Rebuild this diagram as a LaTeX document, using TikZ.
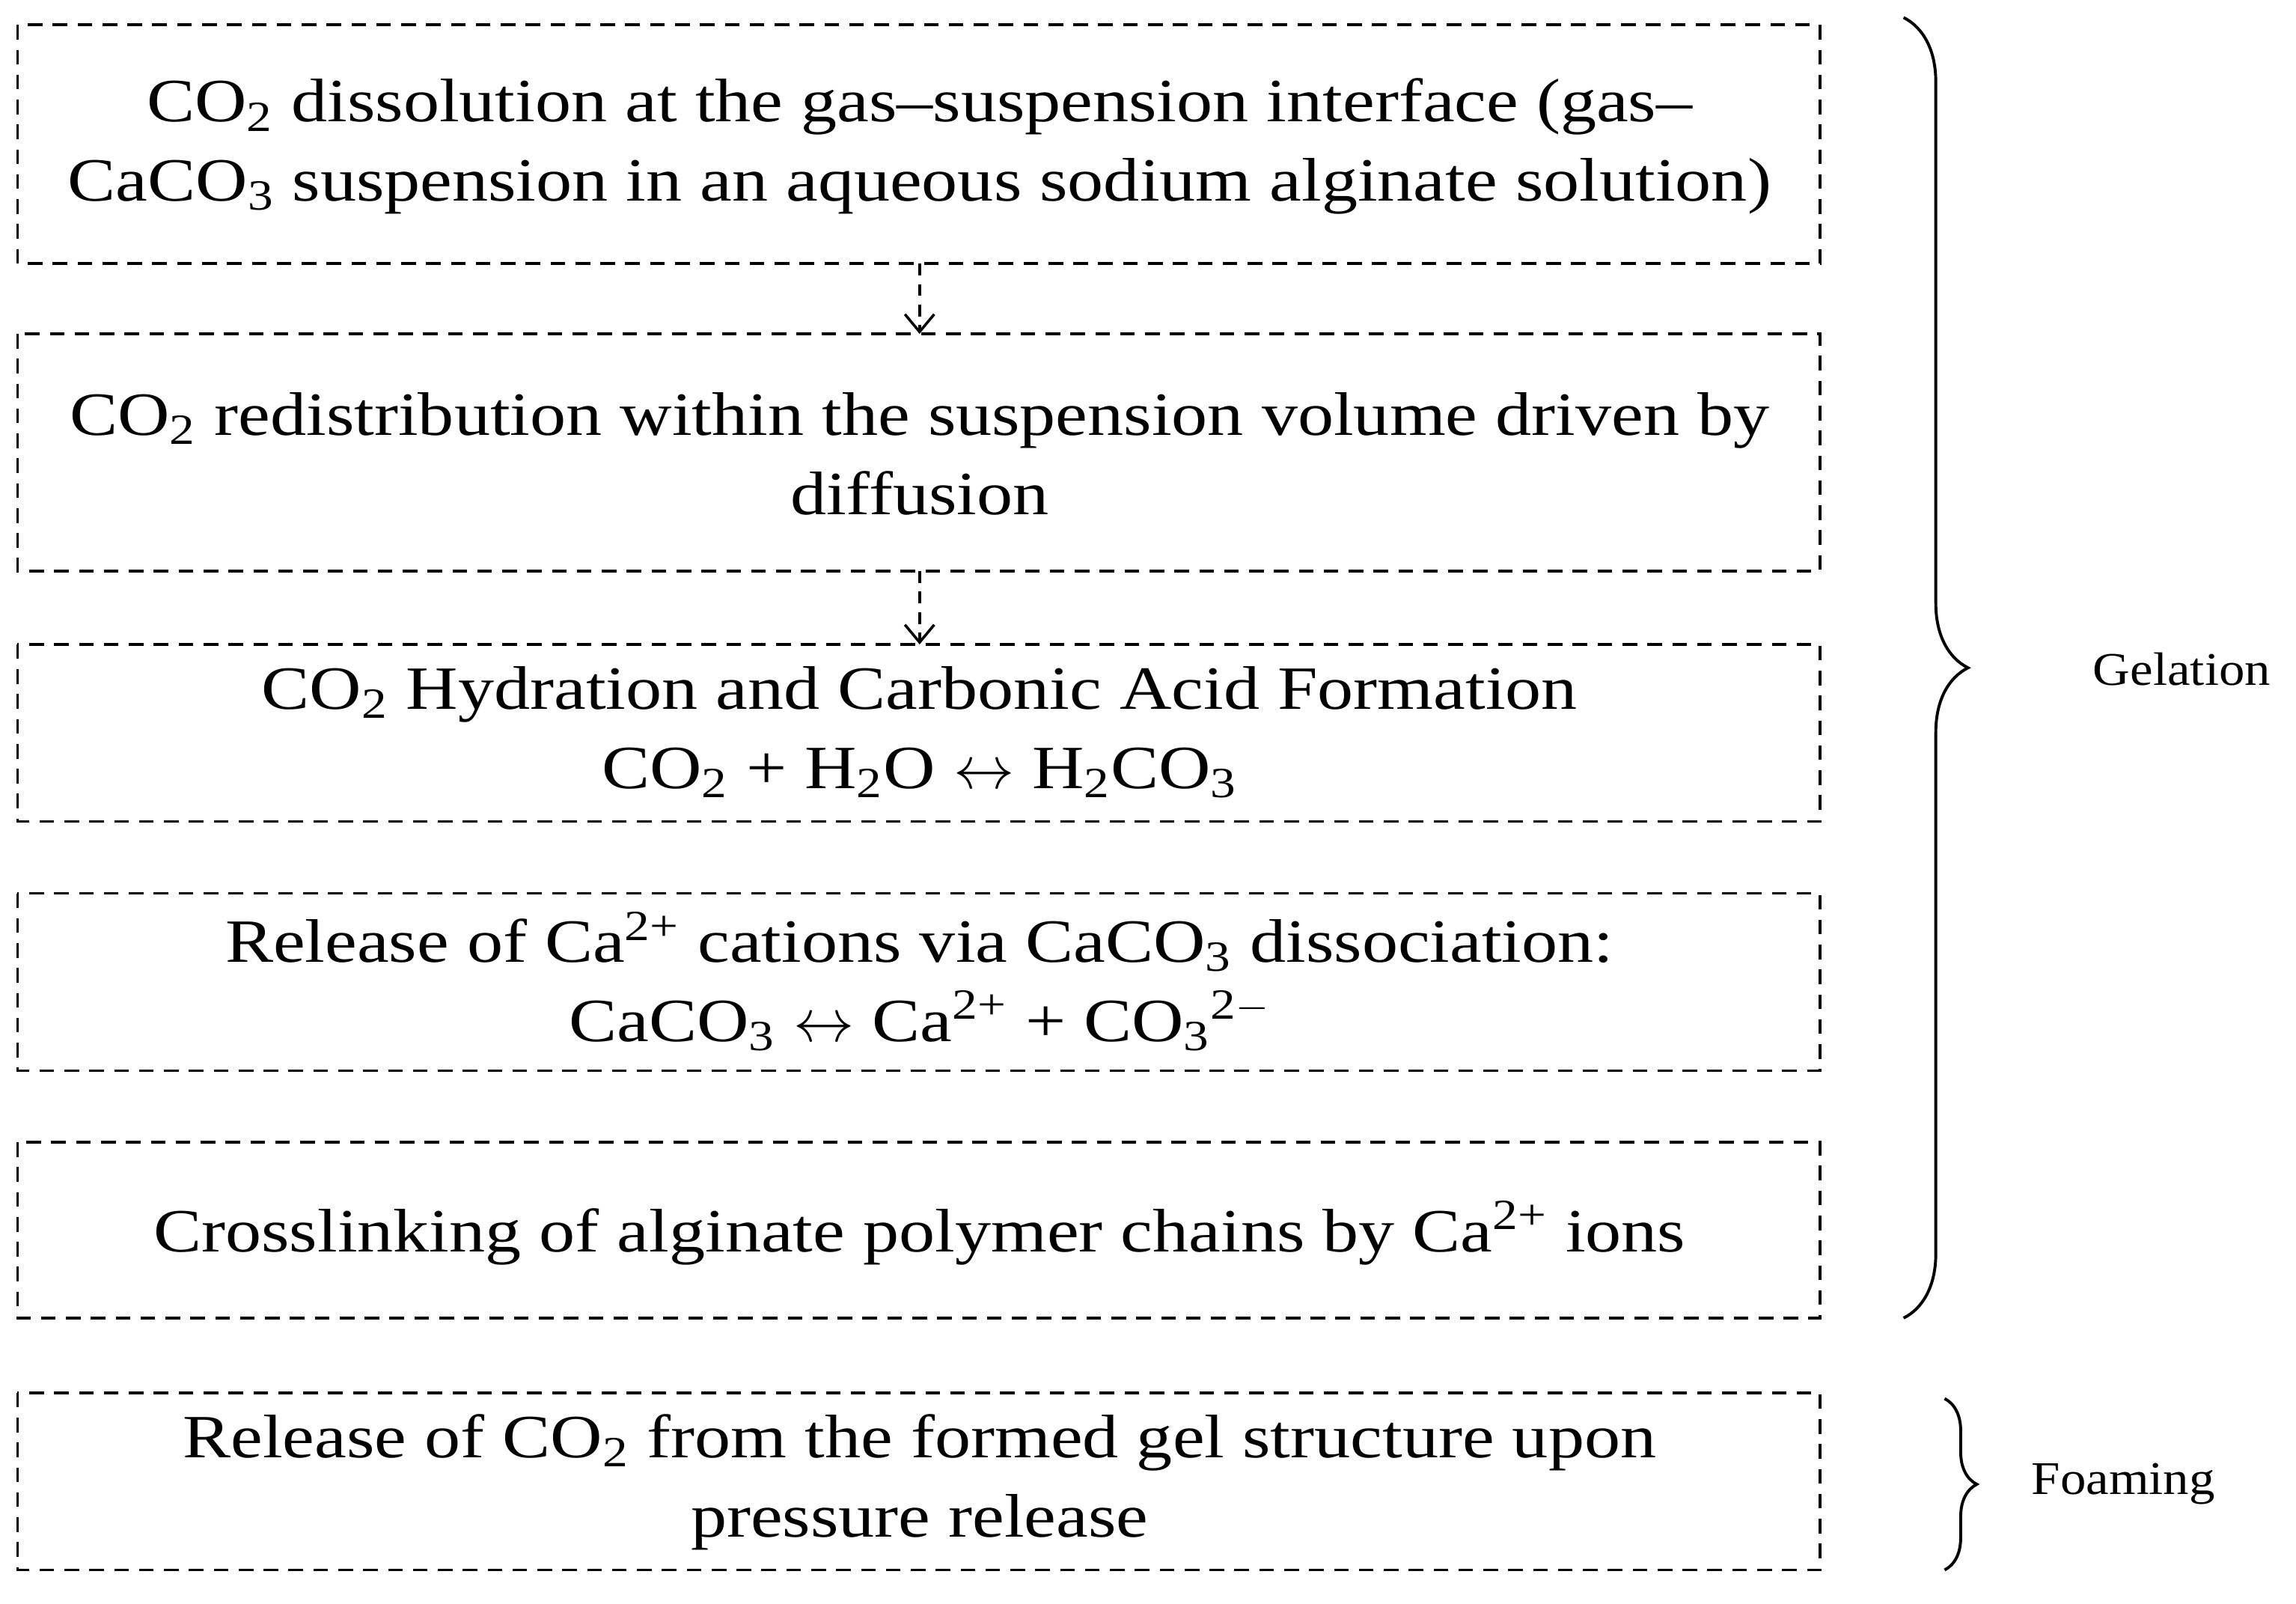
\documentclass[tikz,border=0pt]{standalone}
\usepackage{fontspec}
\setmainfont{Liberation Serif}[FakeStretch=1.17]
\newfontfamily\lblfont{Liberation Serif}[FakeStretch=1.1]
\usetikzlibrary{arrows.meta,decorations.pathreplacing}
\begin{document}
\begin{tikzpicture}[x=0.5pt,y=-0.5pt,
  boxst/.style={draw,dashed,line width=0.9pt,dash pattern=on 5pt off 3.5pt},
  txt/.style={align=center,font=\fontsize{21}{27}\selectfont,inner sep=0pt},
  arr/.style={draw,line width=0.9pt,dash pattern=on 4pt off 3pt,-{Straight Barb[length=6pt,width=10pt]}},
  brc/.style={draw,line width=1pt,decorate,decoration={brace,amplitude=22pt}},
  lbl/.style={font=\lblfont\fontsize{16}{19}\selectfont,inner sep=0pt}]
\useasboundingbox (0,0) rectangle (1568,1095);
\newcommand{\sub}[1]{\textsubscript{#1}}
\newcommand{\supx}[1]{\textsuperscript{#1}}
\draw[boxst] (12,17) rectangle (1243,180);
\draw[boxst] (12,228) rectangle (1243,390);
\draw[boxst] (12,440) rectangle (1243,561);
\draw[boxst] (12,610) rectangle (1243,731);
\draw[boxst] (12,780) rectangle (1243,900);
\draw[boxst] (12,951) rectangle (1243,1072);
\node[txt] (t1) at (628,100) {CO\sub{2} dissolution at the gas--suspension interface (gas--\\CaCO\sub{3} suspension in an aqueous sodium alginate solution)};
\node[txt] (t2) at (628,310) {CO\sub{2} redistribution within the suspension volume driven by\\diffusion};
\node[txt] (t3) at (628,500) {CO\sub{2} Hydration and Carbonic Acid Formation\\CO\sub{2} + H\sub{2}O $\leftrightarrow$ H\sub{2}CO\sub{3}};
\node[txt] (t4) at (628,670) {Release of Ca\supx{2+} cations via CaCO\sub{3} dissociation:\\CaCO\sub{3} $\leftrightarrow$ Ca\supx{2+} + CO\sub{3}\supx{2$-$}};
\node[txt] (t5) at (628,842) {Crosslinking of alginate polymer chains by Ca\supx{2+} ions};
\node[txt] (t6) at (628,1012) {Release of CO\sub{2} from the formed gel structure upon\\pressure release};
\coordinate (a1) at (628,180); \coordinate (b1) at (628,228);
\coordinate (a2) at (628,390); \coordinate (b2) at (628,440);
\draw[arr] (a1) -- (b1);
\draw[arr] (a2) -- (b2);
\draw[brc] (1300,12) -- (1300,900);
\draw[brc,decoration={brace,amplitude=11pt}] (1328,955) -- (1328,1072);
\node[lbl] (g) at (1490,457) {Gelation};
\node[lbl] (f) at (1450,1013) {Foaming};
\end{tikzpicture}
\end{document}
